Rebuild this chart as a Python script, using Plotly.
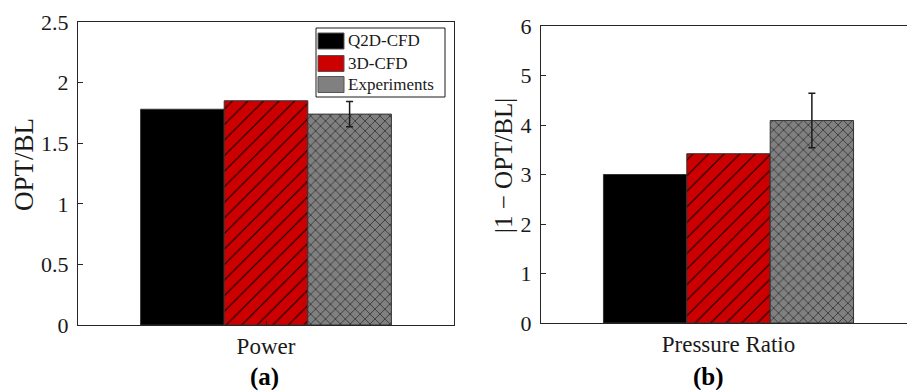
import plotly.graph_objects as go

W, H = 907, 390

# Data
series = ["Q2D-CFD", "3D-CFD", "Experiments"]
colors = ["#000000", "#CC0000", "#808080"]
patterns = ["", "/", "x"]
pattern_sizes = [8, 11, 7]
pattern_solidity = [0.1, 0.09, 0.14]

power_cat = ["Power"]
power_vals = [1.78, 1.85, 1.74]
power_err = [0.0, 0.0, 0.105]

pr_cat = ["Pressure Ratio"]
pr_vals = [3.0, 3.42, 4.09]
pr_err = [0.0, 0.0, 0.55]

# Panel boxes in pixels (left, right, top, bottom)
A = (78, 454, 22, 325)
B = (541, 907, 26, 323)
B_full_width = 375  # width the right panel would have if not cut by the page edge


def xdom(p):
    return [p[0] / W, p[1] / W]


def ydom(p):
    return [(H - p[3]) / H, (H - p[2]) / H]


def px(x):
    return x / W


def py(y):
    return (H - y) / H


SERIF = "Liberation Serif"
AXC = "#262626"
TXT = "#1a1a1a"

fig = go.Figure()

for i, name in enumerate(series):
    if patterns[i]:
        pat = dict(shape=patterns[i], fgcolor="#000000", bgcolor=colors[i],
                   size=pattern_sizes[i], solidity=pattern_solidity[i], fillmode="replace")
    else:
        pat = dict(shape="")
    common = dict(
        marker=dict(color=colors[i], line=dict(color="#333333", width=1), pattern=pat),
        showlegend=False,
    )
    fig.add_trace(go.Bar(
        x=power_cat, y=[power_vals[i]], name=name,
        error_y=dict(type="data", array=[power_err[i]], visible=power_err[i] > 0,
                     color=TXT, thickness=1.5, width=3.5),
        xaxis="x", yaxis="y", **common))
    fig.add_trace(go.Bar(
        x=pr_cat, y=[pr_vals[i]], name=name,
        error_y=dict(type="data", array=[pr_err[i]], visible=pr_err[i] > 0,
                     color=TXT, thickness=1.5, width=3.5),
        xaxis="x2", yaxis="y2", **common))

tickfont = dict(family=SERIF, size=22, color=TXT)
catfont = dict(family=SERIF, size=23, color=TXT)

# Legend box with plain colour patches
shapes = [dict(type="rect", xref="paper", yref="paper",
               x0=px(316), x1=px(445), y0=py(97), y1=py(28),
               line=dict(color=TXT, width=1), fillcolor="white", layer="above")]
annotations = []
rows = [41, 63.5, 84.5]
for i, name in enumerate(series):
    yc = rows[i]
    shapes.append(dict(type="rect", xref="paper", yref="paper",
                       x0=px(318), x1=px(344), y0=py(yc + 8), y1=py(yc - 8),
                       line=dict(color="#555555", width=1), fillcolor=colors[i],
                       layer="above"))
    annotations.append(dict(text=name, x=px(346), y=py(yc), xref="paper", yref="paper",
                            xanchor="left", yanchor="middle", showarrow=False,
                            font=dict(family=SERIF, size=17, color=TXT)))

annotations += [
    dict(text="OPT/BL", x=px(24), y=py(165), xref="paper", yref="paper",
         xanchor="center", yanchor="middle",
         textangle=-90, showarrow=False, font=dict(family=SERIF, size=27, color=TXT)),
    dict(text="|1 − OPT/BL|", x=px(503), y=py(165), xref="paper", yref="paper",
         xanchor="center", yanchor="middle",
         textangle=-90, showarrow=False, font=dict(family=SERIF, size=25, color=TXT)),
    dict(text="<b>(a)</b>", x=px(264), y=py(377), xref="paper", yref="paper",
         xanchor="center", yanchor="middle",
         showarrow=False, font=dict(family=SERIF, size=25, color="#000000")),
    dict(text="<b>(b)</b>", x=px(708), y=py(377), xref="paper", yref="paper",
         xanchor="center", yanchor="middle",
         showarrow=False, font=dict(family=SERIF, size=25, color="#000000")),
]

axis_common = dict(showline=True, linecolor=AXC, linewidth=1, tickcolor=AXC,
                   ticks="inside", showgrid=False, zeroline=False, automargin=False)

fig.update_layout(
    width=W, height=H,
    margin=dict(l=0, r=0, t=0, b=0),
    paper_bgcolor="white", plot_bgcolor="white",
    barmode="group", bargap=0.333, bargroupgap=0,
    showlegend=False,
    font=dict(family=SERIF, color=TXT),
    xaxis=dict(domain=xdom(A), anchor="y", range=[-0.5, 0.5], mirror=True,
               ticklen=4, tickfont=catfont, ticklabelstandoff=0, **axis_common),
    yaxis=dict(domain=ydom(A), anchor="x", range=[0, 2.5], dtick=0.5, mirror=True,
               ticklen=5, tickfont=tickfont, ticklabelstandoff=4, **axis_common),
    xaxis2=dict(domain=xdom(B), anchor="y2",
                range=[-0.5, -0.5 + (B[1] - B[0]) / B_full_width], mirror=True,
                ticklen=4, tickfont=catfont, ticklabelstandoff=0, **axis_common),
    yaxis2=dict(domain=ydom(B), anchor="x2", range=[0, 6], dtick=1, mirror=False,
                ticklen=5, tickfont=tickfont, ticklabelstandoff=4, **axis_common),
    shapes=shapes,
    annotations=annotations,
)

fig.write_html("out.html")
